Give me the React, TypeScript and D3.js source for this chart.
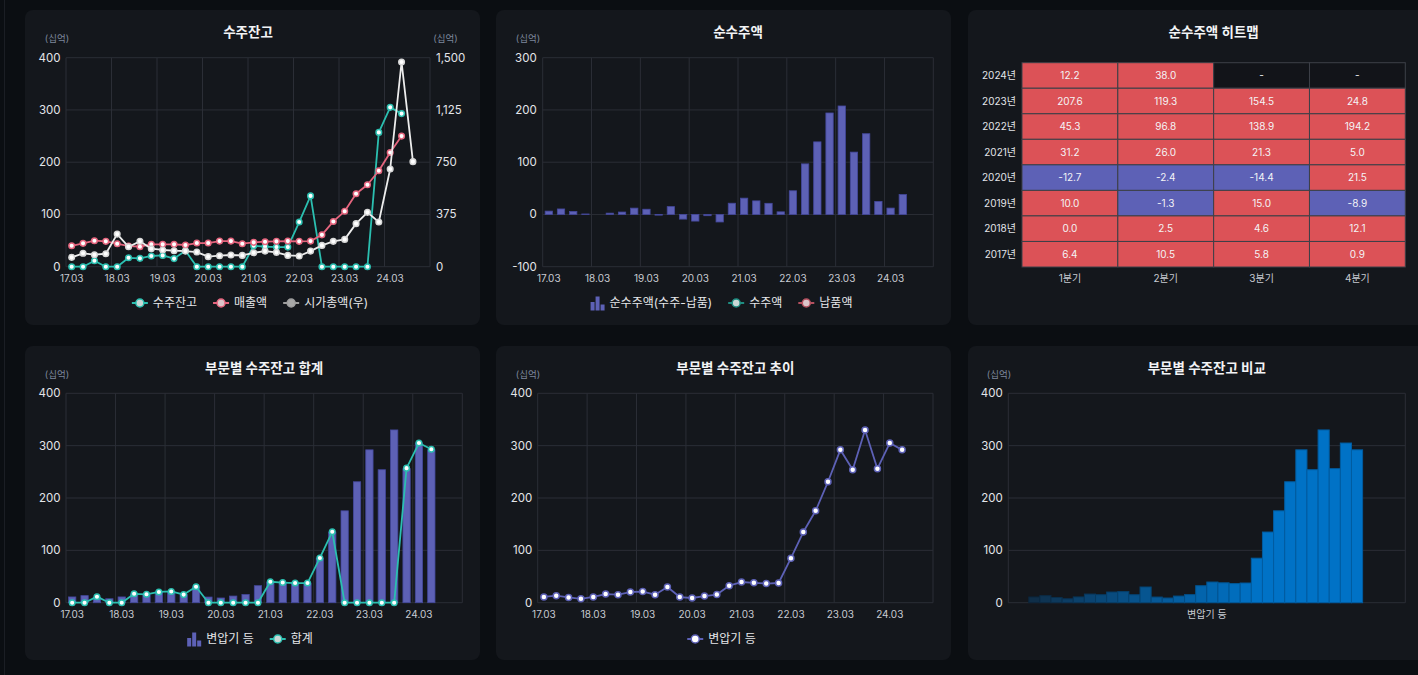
import React, { useEffect, useRef } from 'react';
import * as d3 from 'd3';

// ---------- DATA ----------
const quarters = [
  '17.03', '17.06', '17.09', '17.12',
  '18.03', '18.06', '18.09', '18.12',
  '19.03', '19.06', '19.09', '19.12',
  '20.03', '20.06', '20.09', '20.12',
  '21.03', '21.06', '21.09', '21.12',
  '22.03', '22.06', '22.09', '22.12',
  '23.03', '23.06', '23.09', '23.12',
  '24.03', '24.06', '24.09', '24.12',
];
const yearTicks = ['17.03', '18.03', '19.03', '20.03', '21.03', '22.03', '23.03', '24.03'];

// 수주잔고 / 합계 (십억)
const backlog = [0, 0, 11.5, 0, 0, 17, 16, 20.5, 21.5, 15.5, 30.5, 0, 0, 0, 0, 0, 40, 38.5, 37.5, 37.5, 85.5, 135.5, 0, 0, 0, 0, 0, 257, 305, 293];
// 매출액 (십억)
const sales = [40, 44.7, 49.8, 48.5, 44, 39.6, 38.3, 42.8, 42.8, 42.8, 41.5, 45.3, 45.3, 49, 49, 44, 46.6, 47.8, 48.5, 49, 48.5, 49, 61, 86.6, 106, 139.6, 156.8, 183.6, 218.7, 250];
// 시가총액 (우축, 십억)
const marketCap = [67, 96, 86, 93, 234, 143, 182, 129, 120, 115, 112, 105, 72, 79, 84, 81, 100, 112, 103, 81, 77, 112, 153, 182, 196, 309, 390, 321, 701, 1469, 754];
// 순수주액 (수주-납품) 분기별
const netOrders = [6.4, 10.5, 5.8, 0.9, 0.0, 2.5, 4.6, 12.1, 10.0, -1.3, 15.0, -8.9, -12.7, -2.4, -14.4, 21.5, 31.2, 26.0, 21.3, 5.0, 45.3, 96.8, 138.9, 194.2, 207.6, 119.3, 154.5, 24.8, 12.2, 38.0];
// 변압기 등 수주잔고
const transformer = [11, 13.5, 10, 7.5, 11, 16.5, 15.3, 20.4, 21.2, 15.3, 30, 10.8, 9, 12.7, 15.5, 32.5, 39.5, 38, 36.5, 37.6, 85, 135, 175.5, 231, 292, 254, 330, 256, 305, 292];

const heatYears = ['2024년', '2023년', '2022년', '2021년', '2020년', '2019년', '2018년', '2017년'];
const heatYearNums = [2024, 2023, 2022, 2021, 2020, 2019, 2018, 2017];
const heatQuarters = ['1분기', '2분기', '3분기', '4분기'];

// ---------- STYLE ----------
const FONT = "Inter, 'Noto Sans CJK KR', sans-serif";
const C = {
  page: '#0b0e12',
  panel: '#14171c',
  grid: '#2b2e36',
  tick: '#e3e5e9',
  xtick: '#c8cbd2',
  unit: '#7d879b',
  title: '#f2f3f5',
  teal: '#2bbfb0',
  pink: '#e5657e',
  white: '#ededed',
  purple: '#5d61b6',
  purpleStroke: '#44489c',
  red: '#dc5257',
  blue: '#5d61b6',
  cellBorder: '#3d4048',
};

type Sel = d3.Selection<SVGSVGElement, unknown, null, undefined>;

function panel(svg: Sel, x: number, y: number, w: number, h: number) {
  svg.append('rect').attr('x', x).attr('y', y).attr('width', w).attr('height', h).attr('rx', 8).attr('fill', C.panel);
}

function title(svg: Sel, text: string, cx: number, cy: number) {
  svg.append('text').attr('x', cx).attr('y', cy).attr('dy', '0.35em').attr('text-anchor', 'middle')
    .attr('font-family', FONT).attr('font-size', 13.5).attr('font-weight', 700).attr('fill', C.title).text(text);
}

function unit(svg: Sel, cx: number, cy: number) {
  svg.append('text').attr('x', cx).attr('y', cy).attr('dy', '0.35em').attr('text-anchor', 'middle')
    .attr('font-family', FONT).attr('font-size', 9.5).attr('fill', C.unit).text('(십억)');
}

function frame(svg: Sel, x: d3.ScaleBand<string> | null, y: d3.ScaleLinear<number, number>, ticks: number[], x0: number, x1: number, withYearGrid: boolean) {
  const g = svg.append('g');
  ticks.forEach(t => {
    g.append('line').attr('x1', x0).attr('x2', x1).attr('y1', y(t)).attr('y2', y(t)).attr('stroke', C.grid).attr('stroke-width', 1);
  });
  const [yb, yt] = y.range();
  g.append('line').attr('x1', x0).attr('x2', x0).attr('y1', yt).attr('y2', yb).attr('stroke', C.grid);
  g.append('line').attr('x1', x1).attr('x2', x1).attr('y1', yt).attr('y2', yb).attr('stroke', C.grid);
  if (x && withYearGrid) {
    yearTicks.slice(1).forEach(q => {
      const xx = x(q)!;
      g.append('line').attr('x1', xx).attr('x2', xx).attr('y1', yt).attr('y2', yb).attr('stroke', C.grid);
    });
  }
  if (x) {
    const bw = x.bandwidth();
    yearTicks.forEach(q => {
      g.append('text').attr('x', x(q)! + bw / 2).attr('y', yb + 12).attr('dy', '0.35em').attr('text-anchor', 'middle')
        .attr('font-family', FONT).attr('font-size', 10).attr('fill', C.xtick).text(q);
    });
  }
}

function yLabels(svg: Sel, y: d3.ScaleLinear<number, number>, ticks: number[], xPos: number, anchor: string, fmt: (v: number) => string) {
  ticks.forEach(t => {
    svg.append('text').attr('x', xPos).attr('y', y(t)).attr('dy', '0.35em').attr('text-anchor', anchor)
      .attr('font-family', FONT).attr('font-size', 11.5).attr('fill', C.tick).text(fmt(t));
  });
}

type LegendItem = { label: string; type: 'line' | 'bar'; color: string; fill?: string };

function legend(svg: Sel, items: LegendItem[], cx: number, cy: number) {
  const g = svg.append('g');
  let x = 0;
  items.forEach(it => {
    const ig = g.append('g').attr('transform', `translate(${x},0)`);
    let iw = 16;
    if (it.type === 'bar') {
      iw = 14;
      const hs = [8.5, 14, 6];
      hs.forEach((h, i) => {
        ig.append('rect').attr('x', i * 5).attr('y', 7.5 - h).attr('width', 4).attr('height', h).attr('fill', it.color);
      });
    } else {
      ig.append('line').attr('x1', 0).attr('x2', 16).attr('y1', 0).attr('y2', 0).attr('stroke', it.color).attr('stroke-width', 2);
      ig.append('circle').attr('cx', 8).attr('cy', 0).attr('r', 4).attr('fill', it.fill || '#d0d0d0').attr('stroke', it.color).attr('stroke-width', 1.5);
    }
    const t = ig.append('text').attr('x', iw + 5).attr('y', 0).attr('dy', '0.35em')
      .attr('font-family', FONT).attr('font-size', 12).attr('fill', '#e6e7ea').text(it.label);
    const tw = (t.node() as SVGTextElement).getComputedTextLength();
    x += iw + 5 + tw + 16;
  });
  const total = x - 16;
  g.attr('transform', `translate(${cx - total / 2},${cy})`);
}

function lineSeries(svg: Sel, x: d3.ScaleBand<string>, y: d3.ScaleLinear<number, number>, data: number[], color: string, markFill: string, markStroke: string, r = 2.8) {
  const bw = x.bandwidth();
  const cxf = (_: number, i: number) => x(quarters[i])! + bw / 2;
  const line = d3.line<number>().x(cxf).y(d => y(d));
  svg.append('path').datum(data).attr('d', line).attr('fill', 'none').attr('stroke', color).attr('stroke-width', 1.8).attr('stroke-linejoin', 'round');
  svg.append('g').selectAll('circle').data(data).enter().append('circle')
    .attr('cx', cxf).attr('cy', d => y(d)).attr('r', r)
    .attr('fill', markFill).attr('stroke', markStroke).attr('stroke-width', 1.5);
}

function barSeries(svg: Sel, x: d3.ScaleBand<string>, y: d3.ScaleLinear<number, number>, data: number[], frac: number) {
  const bw = x.bandwidth();
  const w = bw * frac;
  svg.append('g').selectAll('rect').data(data).enter().append('rect')
    .attr('x', (_, i) => x(quarters[i])! + (bw - w) / 2)
    .attr('y', d => Math.min(y(d), y(0)))
    .attr('width', w)
    .attr('height', d => Math.abs(y(d) - y(0)))
    .attr('fill', C.purple).attr('stroke', C.purpleStroke).attr('stroke-width', 0.8);
}

export default function App() {
  const ref = useRef<SVGSVGElement>(null);
  useEffect(() => {
    const svg = d3.select(ref.current!) as Sel;
    svg.selectAll('*').remove();
    svg.append('rect').attr('width', 1418).attr('height', 675).attr('fill', C.page);
    svg.append('line').attr('x1', 4.5).attr('x2', 4.5).attr('y1', 0).attr('y2', 675).attr('stroke', '#1b1e24');

    // panels
    panel(svg, 25, 10, 455, 315);
    panel(svg, 496, 10, 455, 315);
    panel(svg, 968, 10, 470, 315);
    panel(svg, 25, 346, 455, 314);
    panel(svg, 496, 346, 455, 314);
    panel(svg, 968, 346, 470, 314);

    // ---------- Panel 1: 수주잔고 ----------
    {
      const x0 = 66, x1 = 430, yt = 57.7, yb = 266.7;
      const x = d3.scaleBand<string>().domain(quarters).range([x0, x1]);
      const y = d3.scaleLinear().domain([0, 400]).range([yb, yt]);
      const yr = d3.scaleLinear().domain([0, 1500]).range([yb, yt]);
      const ticks = [0, 100, 200, 300, 400];
      frame(svg, x, y, ticks, x0, x1, true);
      yLabels(svg, y, ticks, x0 - 5.5, 'end', d => String(d));
      yLabels(svg, yr, [0, 375, 750, 1125, 1500], x1 + 6, 'start', d3.format(','));
      title(svg, '수주잔고', (x0 + x1) / 2, 32);
      unit(svg, 57, 38.5);
      unit(svg, 445.5, 38.5);
      lineSeries(svg, x, y, backlog, C.teal, '#ffffff', C.teal);
      lineSeries(svg, x, y, sales, C.pink, '#ffffff', C.pink);
      lineSeries(svg, x, yr, marketCap, C.white, '#ffffff', '#d8d8d8');
      legend(svg, [
        { label: '수주잔고', type: 'line', color: C.teal, fill: '#c9d8d6' },
        { label: '매출액', type: 'line', color: C.pink, fill: '#dcc5ca' },
        { label: '시가총액(우)', type: 'line', color: '#9e9e9e', fill: '#a8a8a8' },
      ], 250, 303);
    }

    // ---------- Panel 2: 순수주액 ----------
    {
      const x0 = 542.7, x1 = 933.3, yt = 57.7, yb = 266.7;
      const x = d3.scaleBand<string>().domain(quarters).range([x0, x1]);
      const y = d3.scaleLinear().domain([-100, 300]).range([yb, yt]);
      const ticks = [-100, 0, 100, 200, 300];
      frame(svg, x, y, ticks, x0, x1, true);
      yLabels(svg, y, ticks, x0 - 6, 'end', d => String(d));
      title(svg, '순수주액', (x0 + x1) / 2, 32);
      unit(svg, 528, 38.5);
      barSeries(svg, x, y, netOrders, 0.6);
      legend(svg, [
        { label: '순수주액(수주-납품)', type: 'bar', color: C.purple },
        { label: '수주액', type: 'line', color: '#1e8c80', fill: '#c9d8d6' },
        { label: '납품액', type: 'line', color: '#b4505f', fill: '#dcc5ca' },
      ], 721.5, 303);
    }

    // ---------- Panel 3: 히트맵 ----------
    {
      const x0 = 1022, x1 = 1405.3, yt = 62.7, yb = 267;
      const x = d3.scaleBand<string>().domain(heatQuarters).range([x0, x1]);
      const y = d3.scaleBand<string>().domain(heatYears).range([yt, yb]);
      title(svg, '순수주액 히트맵', (x0 + x1) / 2, 32);
      const g = svg.append('g');
      heatYears.forEach((yl, yi) => {
        heatQuarters.forEach((ql, qi) => {
          const idx = (heatYearNums[yi] - 2017) * 4 + qi;
          const v = idx < netOrders.length ? netOrders[idx] : null;
          const fill = v === null ? '#121419' : v < 0 ? C.blue : C.red;
          g.append('rect').attr('x', x(ql)!).attr('y', y(yl)!).attr('width', x.bandwidth()).attr('height', y.bandwidth())
            .attr('fill', fill).attr('stroke', C.cellBorder).attr('stroke-width', 1);
          g.append('text').attr('x', x(ql)! + x.bandwidth() / 2).attr('y', y(yl)! + y.bandwidth() / 2).attr('dy', '0.35em')
            .attr('text-anchor', 'middle').attr('font-family', FONT).attr('font-size', 10).attr('fill', '#f4f4f6')
            .text(v === null ? '-' : v.toFixed(1));
        });
        g.append('text').attr('x', x0 - 6).attr('y', y(yl)! + y.bandwidth() / 2).attr('dy', '0.35em').attr('text-anchor', 'end')
          .attr('font-family', FONT).attr('font-size', 10).attr('fill', C.tick).text(yl);
      });
      heatQuarters.forEach(ql => {
        g.append('text').attr('x', x(ql)! + x.bandwidth() / 2).attr('y', 278.5).attr('dy', '0.35em').attr('text-anchor', 'middle')
          .attr('font-family', FONT).attr('font-size', 10).attr('fill', C.xtick).text(ql);
      });
    }

    // ---------- Panel 4: 부문별 수주잔고 합계 ----------
    {
      const x0 = 66, x1 = 462.3, yt = 393.3, yb = 602.7;
      const x = d3.scaleBand<string>().domain(quarters).range([x0, x1]);
      const y = d3.scaleLinear().domain([0, 400]).range([yb, yt]);
      const ticks = [0, 100, 200, 300, 400];
      frame(svg, x, y, ticks, x0, x1, true);
      yLabels(svg, y, ticks, x0 - 5.5, 'end', d => String(d));
      title(svg, '부문별 수주잔고 합계', (x0 + x1) / 2, 368);
      unit(svg, 57, 374.5);
      barSeries(svg, x, y, transformer, 0.59);
      lineSeries(svg, x, y, backlog, C.teal, '#ffffff', C.teal);
      legend(svg, [
        { label: '변압기 등', type: 'bar', color: C.purple },
        { label: '합계', type: 'line', color: C.teal, fill: '#c9d8d6' },
      ], 250, 639);
    }

    // ---------- Panel 5: 부문별 수주잔고 추이 ----------
    {
      const x0 = 537.7, x1 = 933, yt = 393.3, yb = 602.7;
      const x = d3.scaleBand<string>().domain(quarters).range([x0, x1]);
      const y = d3.scaleLinear().domain([0, 400]).range([yb, yt]);
      const ticks = [0, 100, 200, 300, 400];
      frame(svg, x, y, ticks, x0, x1, true);
      yLabels(svg, y, ticks, x0 - 5.5, 'end', d => String(d));
      title(svg, '부문별 수주잔고 추이', (x0 + x1) / 2, 368);
      unit(svg, 528, 374.5);
      lineSeries(svg, x, y, transformer, C.purple, '#ffffff', C.purple, 3);
      legend(svg, [
        { label: '변압기 등', type: 'line', color: C.purple, fill: '#ffffff' },
      ], 721.5, 639);
    }

    // ---------- Panel 6: 부문별 수주잔고 비교 ----------
    {
      const x0 = 1008.3, x1 = 1405.3, yt = 393.3, yb = 602.7;
      const cat = ['변압기 등'];
      const x = d3.scaleBand<string>().domain(cat).range([x0, x1]);
      const y = d3.scaleLinear().domain([0, 400]).range([yb, yt]);
      const ticks = [0, 100, 200, 300, 400];
      frame(svg, null, y, ticks, x0, x1, false);
      yLabels(svg, y, ticks, x0 - 5.5, 'end', d => String(d));
      title(svg, '부문별 수주잔고 비교', (x0 + x1) / 2, 368);
      unit(svg, 999, 374.5);
      const groupW = x.bandwidth() * 0.897;
      const inner = d3.scaleBand<string>().domain(quarters).range([x(cat[0])! + (x.bandwidth() - groupW) / 2, x(cat[0])! + (x.bandwidth() + groupW) / 2]);
      const colorAt = d3.interpolateRgb('#0f2e48', '#0072c6');
      svg.append('g').selectAll('rect').data(transformer).enter().append('rect')
        .attr('x', (_, i) => inner(quarters[i])!)
        .attr('y', d => y(d))
        .attr('width', inner.bandwidth())
        .attr('height', d => y(0) - y(d))
        .attr('fill', (_, i) => colorAt(Math.min(1, Math.pow(i / 20, 0.8))))
        .attr('stroke', (_, i) => d3.color(colorAt(Math.min(1, Math.pow(i / 20, 0.8))))!.darker(0.6).formatHex())
        .attr('stroke-width', 1);
      svg.append('text').attr('x', x(cat[0])! + x.bandwidth() / 2).attr('y', yb + 12).attr('dy', '0.35em').attr('text-anchor', 'middle')
        .attr('font-family', FONT).attr('font-size', 10).attr('fill', C.xtick).text(cat[0]);
    }
  }, []);
  return <svg ref={ref} width={1418} height={675} style={{ position: 'absolute', left: 0, top: 0, display: 'block' }} />;
}
